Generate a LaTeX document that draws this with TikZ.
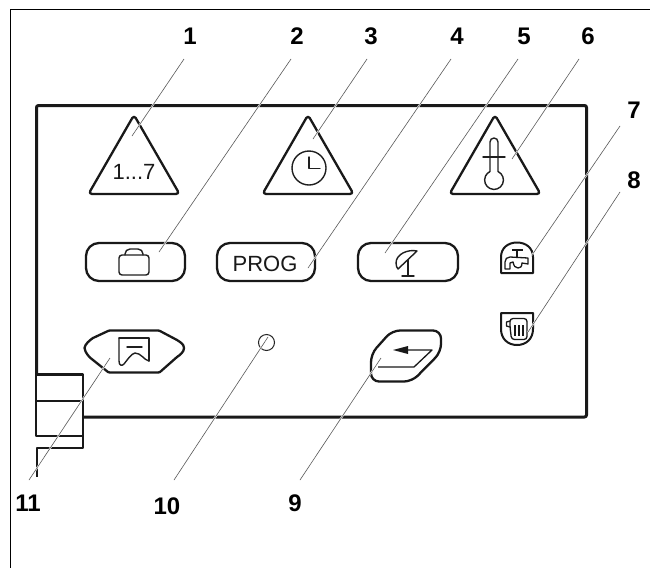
\documentclass[tikz,border=0pt]{standalone}
\usepackage{fontspec}
\setmainfont{Liberation Sans}
\tikzset{
  num/.style={font=\fontsize{24}{26}\selectfont\bfseries,inner sep=0pt,text=black},
  lbl/.style={font=\fontsize{22}{24}\selectfont,inner sep=0pt,text=black!90},
  panel/.style={line width=3pt,color=black!90,line join=round},
  sub/.style={line width=2.2pt,color=black!90,line join=round},
  key/.style={line width=2.3pt,color=black!90,line join=round},
  ico/.style={line width=1.4pt,color=black!88,line join=round,line cap=round},
  icoh/.style={line width=2pt,color=black!90,line join=round},
  icot/.style={line width=1.3pt,color=black!90,line join=round},
  lead/.style={line width=0.6pt,color=black!65},
  halo/.style={line width=1.7pt,color=white},
  frame/.style={line width=1pt,color=black}
}
\begin{document}
\begin{tikzpicture}[x=1pt,y=-1pt]
\useasboundingbox (0,0) rectangle (650,568);
\fill[white] (0,0) rectangle (650,568);
% outer frame
\draw[frame] (650,9.5) -- (10.5,9.5) -- (10.5,568);
% panel
\draw[panel,rounded corners=2pt] (36.5,374) -- (36.5,105.5) -- (586.5,105.5) -- (586.5,417) -- (83,417);
\draw[sub] (36,374.5) -- (83,374.5) -- (83,448) -- (37,448) -- (37,477);
\draw[sub] (35,401) -- (83,401);
\draw[sub] (36,374) -- (36,436) -- (83,436);
% triangles
\draw[key,rounded corners=3.5pt] (134,115) -- (179.5,194) -- (88.5,194) -- cycle;
\draw[key,rounded corners=3.5pt] (308,115) -- (353.5,194) -- (262.5,194) -- cycle;
\draw[key,rounded corners=3.5pt] (495,115) -- (540.5,194) -- (449.5,194) -- cycle;
\node[lbl] (t1) at (134,171.5) {1...7};
% clock
\draw[ico] (309,168) circle (17);
\draw[ico] (309,157) -- (309,168.5) -- (320,168.5);
% thermometer
\draw[ico] (490,171.5) -- (490,142) arc[start angle=180,end angle=360,radius=4] -- (498,171.5)
  arc[start angle=-65,end angle=245,radius=9.4] ;
\draw[ico] (483,157) -- (505,157);
% pills
\draw[key,rounded corners=13pt] (86,243) rectangle (185,281);
\draw[key,rounded corners=13pt] (217,243) rectangle (315,281);
\draw[key,rounded corners=13pt] (358,243) rectangle (458,281);
\node[lbl] (t4) at (265,264) {PROG};
% bag
\draw[ico,rounded corners=3pt] (119,255) rectangle (149,275);
\draw[ico,rounded corners=5pt] (125,255) -- (125,249) -- (143,249) -- (143,255);
% antenna
\draw[ico] (417,251) .. controls (408,249) and (396,254) .. (396,263) .. controls (396,266) and (397,268) .. (398,269) -- cycle;
\draw[ico] (408,260) -- (408,276);
\draw[ico] (402,276) -- (414,276);
% tap
\draw[icoh] (501,273) -- (501,257) .. controls (501,248) and (508,242.5) .. (517,242.5) .. controls (526,242.5) and (533,248) .. (533,257) -- (533,273) -- cycle;
\draw[icot,line width=2pt] (512,249.5) -- (523,249.5);
\draw[icot,line width=1.8pt] (517,249.5) -- (517,257);
\draw[icot] (505,269) -- (505,262) .. controls (505,259) and (507,257) .. (510,257) -- (528,258) -- (528,264) -- (522,263) .. controls (522,267) and (520,268) .. (518,268) .. controls (515,268) and (514,266) .. (513,262) -- (510,263) -- (510,269) -- cycle;
% trash
\draw[icoh] (501,313) -- (533,313) -- (533,329) .. controls (533,339) and (526,345) .. (517,345) .. controls (508,345) and (501,339) .. (501,329) -- cycle;
\draw[icot,rounded corners=3pt] (510,327) -- (510,318.5) -- (527,318.5) -- (527,339.5) -- (511.5,339.5) -- cycle;
\draw[icot] (510,321) -- (506.5,322) -- (506.5,326) -- (510,327);
\draw[icot] (515,325) -- (515,336);
\draw[icot] (519,325) -- (519,336);
\draw[icot] (523,325) -- (523,336);
% save key
\draw[key] (84.5,348) .. controls (85,344) and (90,340) .. (93,338) -- (108,331) .. controls (109,330.5) and (110,330.5) .. (112,330.5) -- (156,330.5) .. controls (158,330.5) and (159,330.5) .. (160,331) -- (177,340) .. controls (180,342) and (184,344) .. (184,348) .. controls (184,352) and (180,355) .. (177,357) -- (160,372) .. controls (159,372.5) and (158,372.5) .. (156,372.5) -- (112,372.5) .. controls (110,372.5) and (109,372.5) .. (108,372) -- (93,360) .. controls (90,358) and (85,353) .. (84.5,348) -- cycle;
\draw[ico] (119,338) -- (149,338) -- (149,361);
\draw[ico] (119,338) -- (119,361) .. controls (119,366) and (122,366) .. (124,364) .. controls (128,359) and (131,354) .. (135,353) .. controls (141,353) and (144,360) .. (149,361);
\draw[ico] (127,347) -- (142,347);
% indicator
\node[draw,circle,line width=1pt,color=black!85,minimum size=16pt,inner sep=0pt] (led) at (266.5,342.5) {};
% enter key
\draw[key,rounded corners=8pt] (392,330.5) -- (441,330.5) -- (441,352) -- (412,381.5) -- (371,381.5) -- (371,354) -- cycle;
\draw[icot] (378,367) -- (414,367) -- (432,350) -- (402,350);
\fill[black!90] (393,350) -- (408,346) -- (408,354) -- cycle;
% labels
\node[num] (n1) at (190,36) {1};
\node[num] (n2) at (297,36) {2};
\node[num] (n3) at (371,36) {3};
\node[num] (n4) at (457,36) {4};
\node[num] (n5) at (524,36) {5};
\node[num] (n6) at (588,36) {6};
\node[num] (n7) at (634,110) {7};
\node[num] (n8) at (634,180) {8};
\node[num] (n9) at (295,503) {9};
\node[num] (n10) at (167,506) {10};
\node[num] (n11) at (28,503) {11};
% leader ends
\coordinate (a1) at (184,59);   \coordinate (b1) at (132,136);
\coordinate (a2) at (291,59);   \coordinate (b2) at (159,252);
\coordinate (a3) at (367,59);   \coordinate (b3) at (313,139);
\coordinate (a4) at (451,59);   \coordinate (b4) at (308,268);
\coordinate (a5) at (518,59);   \coordinate (b5) at (385,253);
\coordinate (a6) at (579,59);   \coordinate (b6) at (512,159);
\coordinate (a7) at (620,126);  \coordinate (b7) at (532,255);
\coordinate (a8) at (620,192);  \coordinate (b8) at (528,332);
\coordinate (a9) at (300,480);  \coordinate (b9) at (381,358);
\coordinate (a10) at (174,480); \coordinate (b10) at (268,337);
\coordinate (a11) at (29,480);  \coordinate (b11) at (110,358);
\foreach \i in {1,...,11} {\draw[halo] (a\i) -- (b\i); \draw[lead] (a\i) -- (b\i);}
\end{tikzpicture}
\end{document}
